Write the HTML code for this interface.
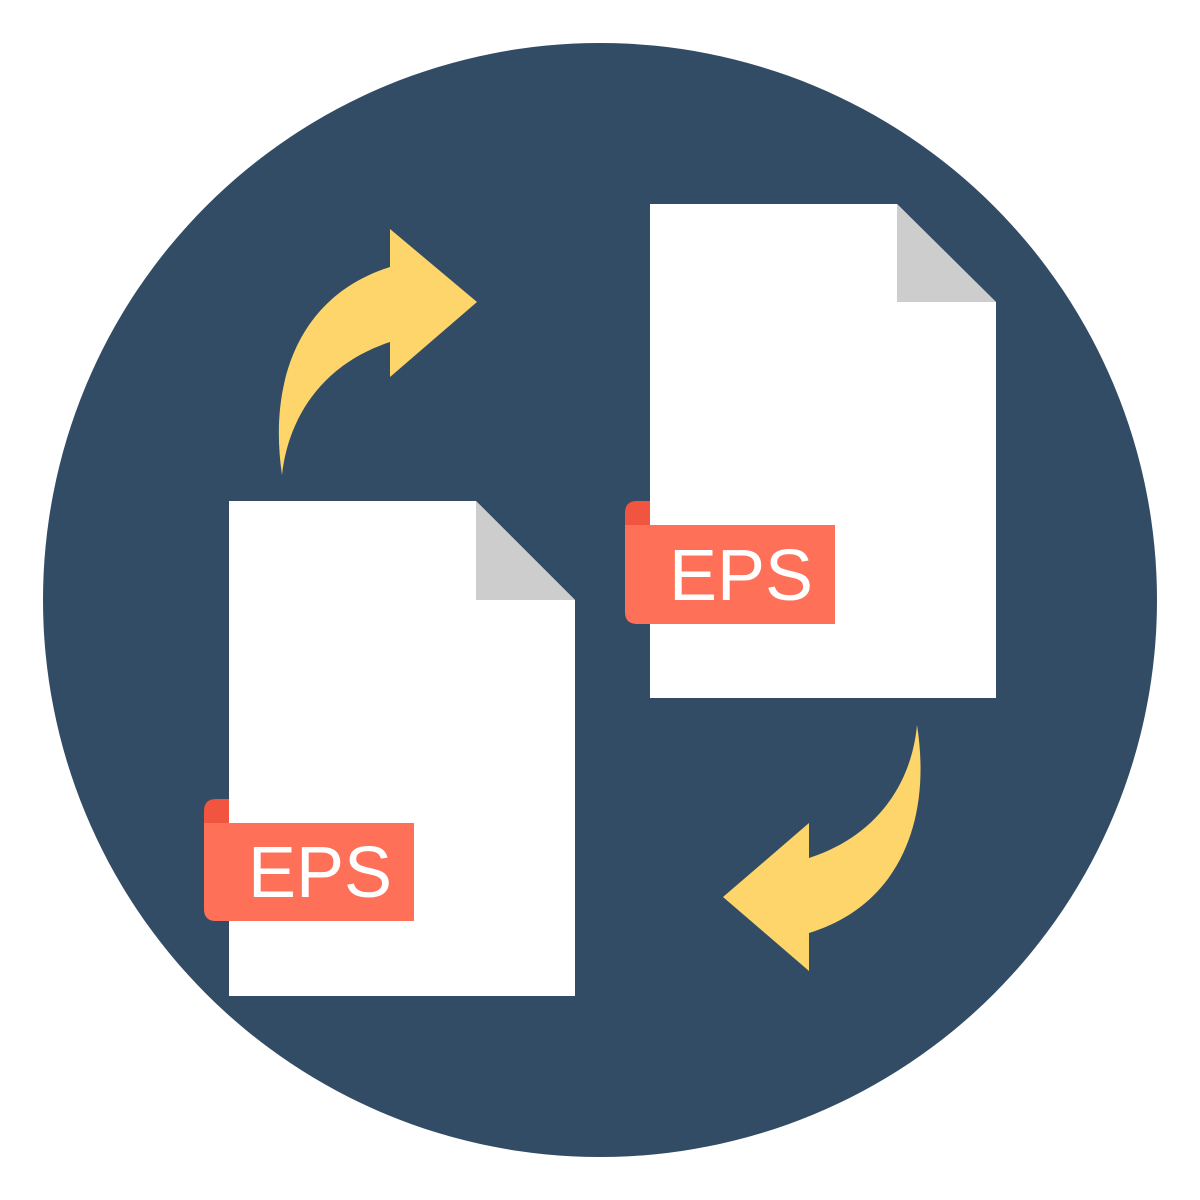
<!DOCTYPE html>
<html><head><meta charset="utf-8"><style>
html,body{margin:0;padding:0;background:#fff;}
svg{display:block;}
</style></head><body>
<svg width="1200" height="1200" viewBox="0 0 1200 1200" xmlns="http://www.w3.org/2000/svg">
<circle cx="600" cy="600" r="557" fill="#334c65"/>
<!-- arrow 1 -->
<path d="M282,475 C268,380 300,295 390,267 L390,229 L477,302 L390,377 L390,342 C320,365 288,420 282,475 Z" fill="#fdd56a"/>
<!-- arrow 2 -->
<path d="M917,725 C932,820 900,905 809,933 L809,971 L723,897 L809,823 L809,858 C880,835 912,780 917,725 Z" fill="#fdd56a"/>
<!-- doc 1 -->
<path d="M229,501 L476,501 L575,600 L575,996 L229,996 Z" fill="#ffffff"/>
<path d="M476,501 L476,600 L575,600 Z" fill="#cdcdcd"/>
<path d="M204,811 Q204,799 216,799 L229,799 L229,823 L204,823 Z" fill="#f1543f"/>
<path d="M204,823 L414,823 L414,921 L216,921 Q204,921 204,909 Z" fill="#ff7058"/>
<text x="320" y="897" font-family="Liberation Sans, sans-serif" font-size="72" fill="#fff" text-anchor="middle">EPS</text>
<!-- doc 2 -->
<path d="M650,204 L897,204 L996,302 L996,698 L650,698 Z" fill="#ffffff"/>
<path d="M897,204 L897,302 L996,302 Z" fill="#cdcdcd"/>
<path d="M625,513 Q625,501 637,501 L650,501 L650,525 L625,525 Z" fill="#f1543f"/>
<path d="M625,525 L835,525 L835,624 L637,624 Q625,624 625,612 Z" fill="#ff7058"/>
<text x="741" y="600" font-family="Liberation Sans, sans-serif" font-size="72" fill="#fff" text-anchor="middle">EPS</text>
</svg>
</body></html>
